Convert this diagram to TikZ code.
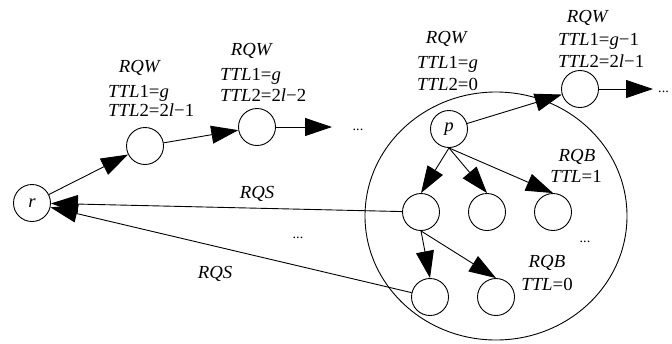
\documentclass[tikz,border=0pt]{standalone}
\usepackage{fontspec}
\setmainfont{Liberation Serif}[FakeStretch=1.02]
\usetikzlibrary{arrows.meta,shapes.geometric}
\newcommand\lblfont{\fontsize{18.5}{21}\selectfont}
\begin{document}
\begin{tikzpicture}[x=1bp,y=-1bp,
  vtx/.style={circle, draw, line width=0.9bp, minimum size=37bp, inner sep=0pt, fill=white, font=\lblfont\itshape},
  arr/.style={draw, line width=0.9bp, -{Triangle[length=27bp,width=18bp]}},
  txt/.style={inner sep=0pt, anchor=base, font=\lblfont},
  txtl/.style={txt, anchor=base west},
  dots/.style={inner sep=0pt, anchor=base, font=\fontsize{14}{16}\selectfont}]
\useasboundingbox (0,0) rectangle (672,343);
% group ring
\node[ellipse, draw, line width=0.9bp, minimum width=262bp, minimum height=248bp, inner sep=0pt] (ring) at (496,216) {};
% vertices
\node[vtx] (r) at (32,203) {r};
\node[vtx] (A) at (145,146) {};
\node[vtx] (B) at (257,127) {};
\node[vtx] (p) at (449,129) {p};
\node[vtx] (C) at (580,89) {};
\node[vtx] (n1) at (421,212) {};
\node[vtx] (n2) at (487,212) {};
\node[vtx] (n3) at (553,212) {};
\node[vtx] (m1) at (430,297) {};
\node[vtx] (m2) at (496,297) {};
\coordinate (dB) at (332,127);
\coordinate (dC) at (653,89);
% connectors
\draw[arr] (r) -- (A);
\draw[arr] (A) -- (B);
\draw[arr] (B) -- (dB);
\draw[arr] (p) -- (C);
\draw[arr] (C) -- (dC);
\draw[arr] (p.south) -- (n1.north);
\draw[arr] (p.south) -- (n2.north);
\draw[arr] (p.south) -- (n3.north);
\draw[arr] (n1.south) -- (m1.north);
\draw[arr] (n1.south) -- (m2.north);
\draw[arr] (n1) -- (r);
\draw[arr] (m1) -- (r);
% labels
\node[txt] (lA0) at (140,72) {\textit{RQW}};
\node[txtl] (lA1) at (108,97) {\textit{TTL}1=\textit{g}};
\node[txtl] (lA2) at (108,116) {\textit{TTL}2=2\textit{l}−1};
\node[txt] (lB0) at (252,55) {\textit{RQW}};
\node[txtl] (lB1) at (220,80) {\textit{TTL}1=\textit{g}};
\node[txtl] (lB2) at (220,101) {\textit{TTL}2=2\textit{l}−2};
\node[txt] (lP0) at (447,43) {\textit{RQW}};
\node[txtl] (lP1) at (417,68) {\textit{TTL}1=\textit{g}};
\node[txtl] (lP2) at (417,90) {\textit{TTL}2=0};
\node[txt] (lC0) at (588,22) {\textit{RQW}};
\node[txtl] (lC1) at (558,45) {\textit{TTL}1=\textit{g}−1};
\node[txtl] (lC2) at (558,67) {\textit{TTL}2=2\textit{l}−1};
\node[txt] (s1) at (257,198) {\textit{RQS}};
\node[txt] (s2) at (215,278) {\textit{RQS}};
\node[txt] (b1) at (577,161) {\textit{RQB}};
\node[txt] (b1t) at (576,182) {\textit{TTL}=1};
\node[txt] (b2) at (547,267) {\textit{RQB}};
\node[txt] (b2t) at (547,290) {\textit{TTL}=0};
\node[dots] (d1) at (358,130) {...};
\node[dots] (d2) at (298,238) {...};
\node[dots] (d3) at (585,242) {...};
\node[dots, anchor=base west] (d4) at (658,92) {...};
\end{tikzpicture}
\end{document}
